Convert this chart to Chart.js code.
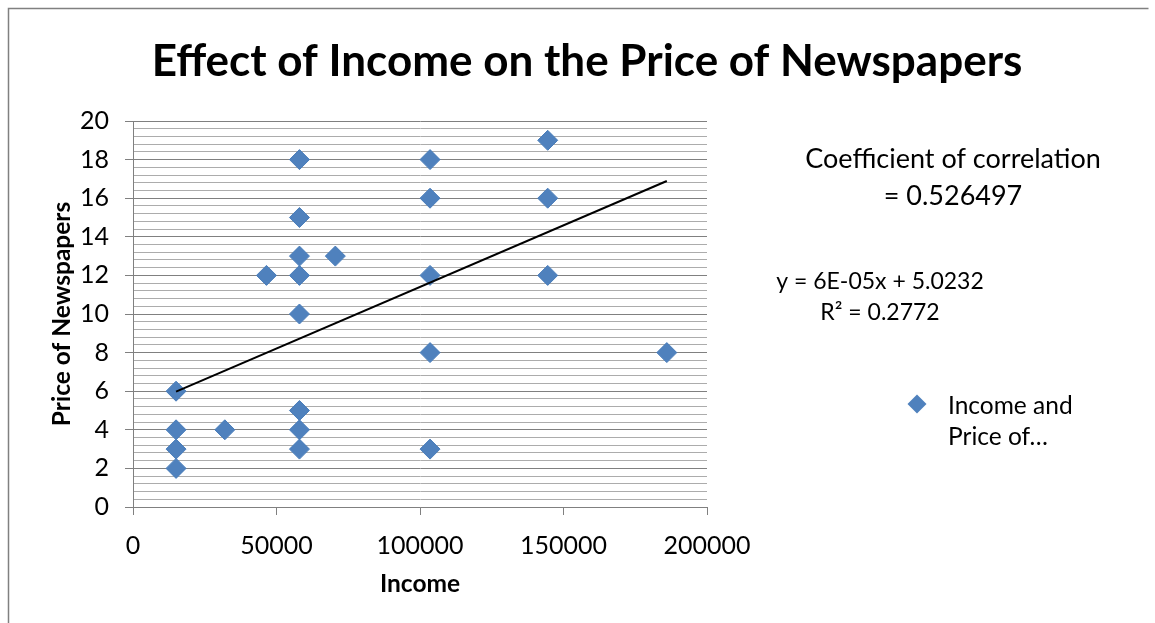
<!DOCTYPE html>
<html>
<head>
<meta charset="utf-8">
<title>Effect of Income on the Price of Newspapers</title>
<script src="https://cdn.jsdelivr.net/npm/chart.js@4.4.1/dist/chart.umd.min.js"></script>
<style>
  html, body { margin: 0; padding: 0; background: #fff; }
  #wrap { width: 1155px; height: 623px; }
</style>
</head>
<body>
<div id="wrap"><canvas id="incomeChart" width="1155" height="623"></canvas></div>
<script>
// Survey points: household income vs. price paid for newspapers
const incomes = [
  15000, 15000, 15000, 15000,
  32000,
  46500,
  58000, 58000, 58000, 58000, 58000, 58000, 58000, 58000,
  70500,
  103500, 103500, 103500, 103500, 103500,
  144500, 144500, 144500,
  186000
];
const prices = [
  6, 4, 3, 2,
  4,
  12,
  18, 15, 13, 12, 10, 5, 4, 3,
  13,
  18, 16, 12, 8, 3,
  19, 16, 12,
  8
];

const xTicks = [0, 50000, 100000, 150000, 200000];
const yTicks = [0, 2, 4, 6, 8, 10, 12, 14, 16, 18, 20];
const yMinorPerMajor = 5;

// linear trendline (Excel: y = 6E-05x + 5.0232, R² = 0.2772)
const trendSlope = 0.0000638;
const trendIntercept = 5.0232;

const chartTitle = 'Effect of Income on the Price of Newspapers';
const xTitle = 'Income';
const yTitle = 'Price of Newspapers';
const corrLines = ['Coefficient of correlation', '= 0.526497'];
const eqLines = ['y = 6E-05x + 5.0232', 'R² = 0.2772'];
const legendLines = ['Income and', 'Price of…'];

const FONT = 'Lato, "Open Sans", sans-serif';
const MARKER = '#4F81BD';
const MAJOR_GRID = '#808080';
const MINOR_GRID = '#acacac';

// gridlines every 0.4 between the labelled ticks
const yGrid = [];
for (let i = 0; i < yTicks.length - 1; i++) {
  for (let j = 0; j < yMinorPerMajor; j++) {
    yGrid.push((yTicks[i] * yMinorPerMajor + (yTicks[i + 1] - yTicks[i]) * j) / yMinorPerMajor);
  }
}
yGrid.push(yTicks[yTicks.length - 1]);
const isMajor = v => yTicks.includes(v);

const points = incomes.map((x, i) => ({ x: x, y: prices[i] }));
const xMin = Math.min(...incomes);
const xMax = Math.max(...incomes);
const trend = [xMin, xMax].map(x => ({ x: x, y: trendSlope * x + trendIntercept }));

const decorations = {
  id: 'decorations',
  beforeDraw(chart) {
    const ctx = chart.ctx;
    ctx.save();
    ctx.fillStyle = '#fff';
    ctx.fillRect(0, 0, chart.width, chart.height);
    ctx.restore();
  },
  afterDraw(chart) {
    const ctx = chart.ctx;
    ctx.save();

    // outer frame
    ctx.strokeStyle = MAJOR_GRID;
    ctx.lineWidth = 1.5;
    ctx.beginPath();
    ctx.moveTo(8.5, chart.height);
    ctx.lineTo(8.5, 8.5);
    ctx.lineTo(1148.5, 8.5);
    ctx.stroke();

    ctx.fillStyle = '#000';
    ctx.textBaseline = 'middle';

    ctx.textAlign = 'center';
    ctx.font = 'bold 44px ' + FONT;
    ctx.fillText(chartTitle, 587, 62);

    ctx.font = '27px ' + FONT;
    ctx.fillText(corrLines[0], 953, 159);
    ctx.fillText(corrLines[1], 953, 196);

    ctx.font = '23px ' + FONT;
    ctx.fillText(eqLines[0], 880, 282);
    ctx.fillText(eqLines[1], 880, 313);

    // legend
    const lx = 917, ly = 404, r = 9.5;
    ctx.fillStyle = MARKER;
    ctx.beginPath();
    ctx.moveTo(lx - r, ly);
    ctx.lineTo(lx, ly - r);
    ctx.lineTo(lx + r, ly);
    ctx.lineTo(lx, ly + r);
    ctx.closePath();
    ctx.fill();

    ctx.fillStyle = '#000';
    ctx.textAlign = 'left';
    ctx.font = '24.5px ' + FONT;
    ctx.fillText(legendLines[0], 948, 406);
    ctx.fillText(legendLines[1], 948, 437);

    ctx.restore();
  }
};

new Chart(document.getElementById('incomeChart'), {
  type: 'scatter',
  data: {
    datasets: [
      {
        type: 'line',
        label: 'Linear trend',
        data: trend,
        borderColor: '#000',
        borderWidth: 2,
        pointRadius: 0,
        fill: false,
        order: 0
      },
      {
        label: 'Income and Price of Newspapers',
        data: points,
        pointStyle: 'rectRot',
        pointRadius: 10,
        pointHoverRadius: 10,
        backgroundColor: MARKER,
        borderColor: '#4A7EBB',
        borderWidth: 1,
        order: 1
      }
    ]
  },
  options: {
    responsive: false,
    animation: false,
    events: [],
    layout: { padding: { top: 121, right: 448, left: 0, bottom: 0 } },
    plugins: {
      legend: { display: false },
      title: { display: false },
      tooltip: { enabled: false }
    },
    scales: {
      x: {
        type: 'linear',
        min: 0,
        max: 200000,
        afterBuildTicks: scale => { scale.ticks = xTicks.map(v => ({ value: v })); },
        afterFit: scale => { scale.height = 116; },
        grid: {
          drawOnChartArea: false,
          drawTicks: true,
          tickLength: 8,
          color: MAJOR_GRID
        },
        border: { color: MAJOR_GRID, width: 1 },
        ticks: {
          color: '#000',
          font: { family: FONT, size: 25 },
          padding: 16,
          maxRotation: 0,
          autoSkip: false,
          callback: v => String(v)
        },
        title: {
          display: true,
          text: xTitle,
          color: '#000',
          font: { family: FONT, size: 24.5, weight: 'bold' },
          padding: { top: 0, bottom: 24 }
        }
      },
      y: {
        type: 'linear',
        min: 0,
        max: 20,
        afterBuildTicks: scale => { scale.ticks = yGrid.map(v => ({ value: v })); },
        afterFit: scale => { scale.width = 133; },
        grid: {
          color: c => (c.tick && isMajor(c.tick.value)) ? MAJOR_GRID : MINOR_GRID,
          tickColor: c => (c.tick && isMajor(c.tick.value)) ? MAJOR_GRID : 'rgba(0,0,0,0)',
          tickLength: 8,
          lineWidth: 1
        },
        border: { color: MAJOR_GRID, width: 1 },
        ticks: {
          color: '#000',
          font: { family: FONT, size: 25 },
          padding: 16,
          autoSkip: false,
          callback: v => isMajor(v) ? String(v) : ''
        },
        title: {
          display: true,
          text: yTitle,
          color: '#000',
          font: { family: FONT, size: 24.5, weight: 'bold' },
          padding: { top: 47, bottom: 0 }
        }
      }
    }
  },
  plugins: [decorations]
});
</script>
</body>
</html>
